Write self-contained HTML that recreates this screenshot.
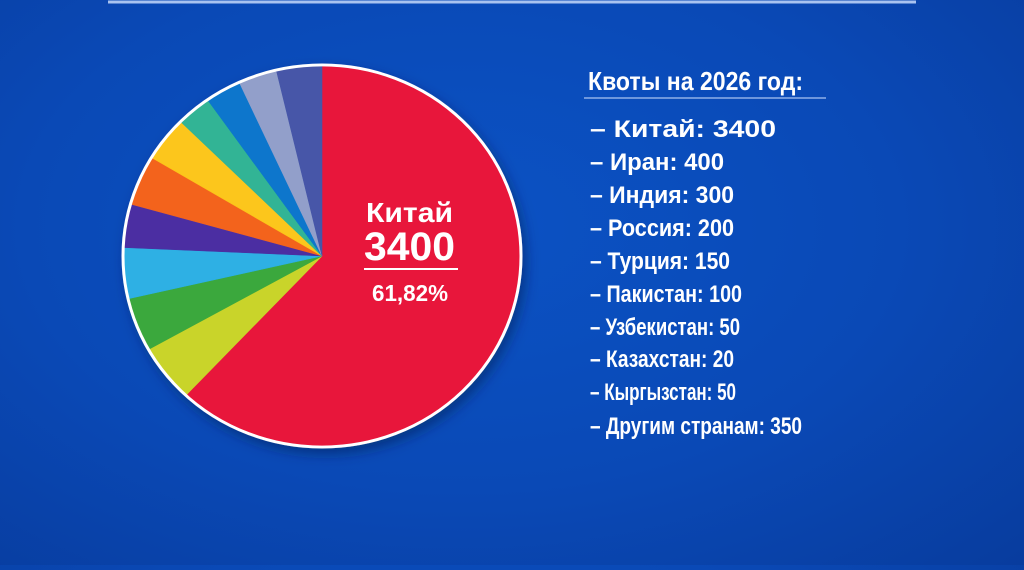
<!DOCTYPE html>
<html><head><meta charset="utf-8"><style>
html,body{margin:0;padding:0;}
body{width:1024px;height:565px;overflow:hidden;background:radial-gradient(ellipse at 45% 40%,#0b52c4 0%,#0a49b6 55%,#083c9e 100%);font-family:"Liberation Sans",sans-serif;}
</style></head><body>
<svg id="s" width="1024" height="565" viewBox="0 0 1024 565" xmlns="http://www.w3.org/2000/svg">
<defs><filter id="sh" x="-20%" y="-20%" width="140%" height="140%"><feDropShadow dx="4" dy="6" stdDeviation="6" flood-color="#001a50" flood-opacity="0.5"/></filter></defs>
<line x1="108" y1="2" x2="916" y2="2" stroke="#a9c3f0" stroke-width="3"/>
<g id="pie" transform="translate(322,256) scale(1,0.96)" filter="url(#sh)"></g>
<g fill="#fff" font-weight="bold">
<text x="366" y="222" font-size="28" textLength="87" lengthAdjust="spacingAndGlyphs">Китай</text>
<text x="364" y="260" font-size="40" textLength="91" lengthAdjust="spacingAndGlyphs">3400</text>
<line x1="364" y1="269" x2="458" y2="269" stroke="#fff" stroke-width="2"/>
<text x="372" y="301" font-size="23" textLength="76" lengthAdjust="spacingAndGlyphs">61,82%</text>
<text x="588" y="90" font-size="26" textLength="215" lengthAdjust="spacingAndGlyphs">Квоты на 2026 год:</text>
</g>
<line x1="584" y1="98" x2="826" y2="98" stroke="#8fb0e8" stroke-width="1.5"/>
<g id="leg" fill="#fff" font-weight="bold" font-size="24"></g>
</svg>
<script>
var pie=document.getElementById('pie');
var R=199;
var cols=['#e8123a','#c9d42a','#3ba83d','#2db0e4','#4b2fa2','#f3641f','#fcc61a','#30b495','#0b76cc','#929fca','#4657a8'];
var pts=[[0,-1],[-390,400],[-500,270],[-565,125],[-585,-25],[-570,-155],[-510,-295],[-420,-400],[-340,-465],[-245,-515],[-135,-550]];
var ang=pts.map(function(p){return Math.atan2(p[1]*1.04,p[0]);});
ang[0]=-Math.PI/2;
var list=[];
var a1=ang[1]; if(a1<-Math.PI/2) a1+=2*Math.PI;
list.push([-Math.PI/2,a1]);
for(var i=1;i<11;i++){var a=ang[i];var b=(i<10)?ang[i+1]:-Math.PI/2;while(b<a)b+=2*Math.PI;while(b-a>Math.PI)b-=2*Math.PI;list.push([a,b]);}
var ns='http://www.w3.org/2000/svg';
list.forEach(function(s,i){
 var a=s[0],b=s[1];var large=(b-a)>Math.PI?1:0;
 var d='M0,0 L'+(R*Math.cos(a)).toFixed(2)+','+(R*Math.sin(a)).toFixed(2)+' A'+R+','+R+' 0 '+large+' 1 '+(R*Math.cos(b)).toFixed(2)+','+(R*Math.sin(b)).toFixed(2)+' Z';
 var p=document.createElementNS(ns,'path');p.setAttribute('d',d);p.setAttribute('fill',cols[i]);p.setAttribute('stroke',cols[i]);p.setAttribute('stroke-width','0.6');pie.appendChild(p);
});
var c=document.createElementNS(ns,'circle');c.setAttribute('r',R);c.setAttribute('fill','none');c.setAttribute('stroke','#fff');c.setAttribute('stroke-width','3');pie.appendChild(c);
var items=[['– Китай: 3400',776],['– Иран: 400',724],['– Индия: 300',734],['– Россия: 200',734],['– Турция: 150',730],['– Пакистан: 100',742],['– Узбекистан: 50',740],['– Казахстан: 20',734],['– Кыргызстан: 50',736],['– Другим странам: 350',802]];
var ys=[137,170,203,236,269,302,335,367,400,434];
var leg=document.getElementById('leg');
items.forEach(function(it,i){var t=document.createElementNS(ns,'text');t.setAttribute('x',590);t.setAttribute('y',ys[i]);t.setAttribute('textLength',it[1]-590);t.setAttribute('lengthAdjust','spacingAndGlyphs');t.textContent=it[0];leg.appendChild(t);});
</script>
</body></html>
